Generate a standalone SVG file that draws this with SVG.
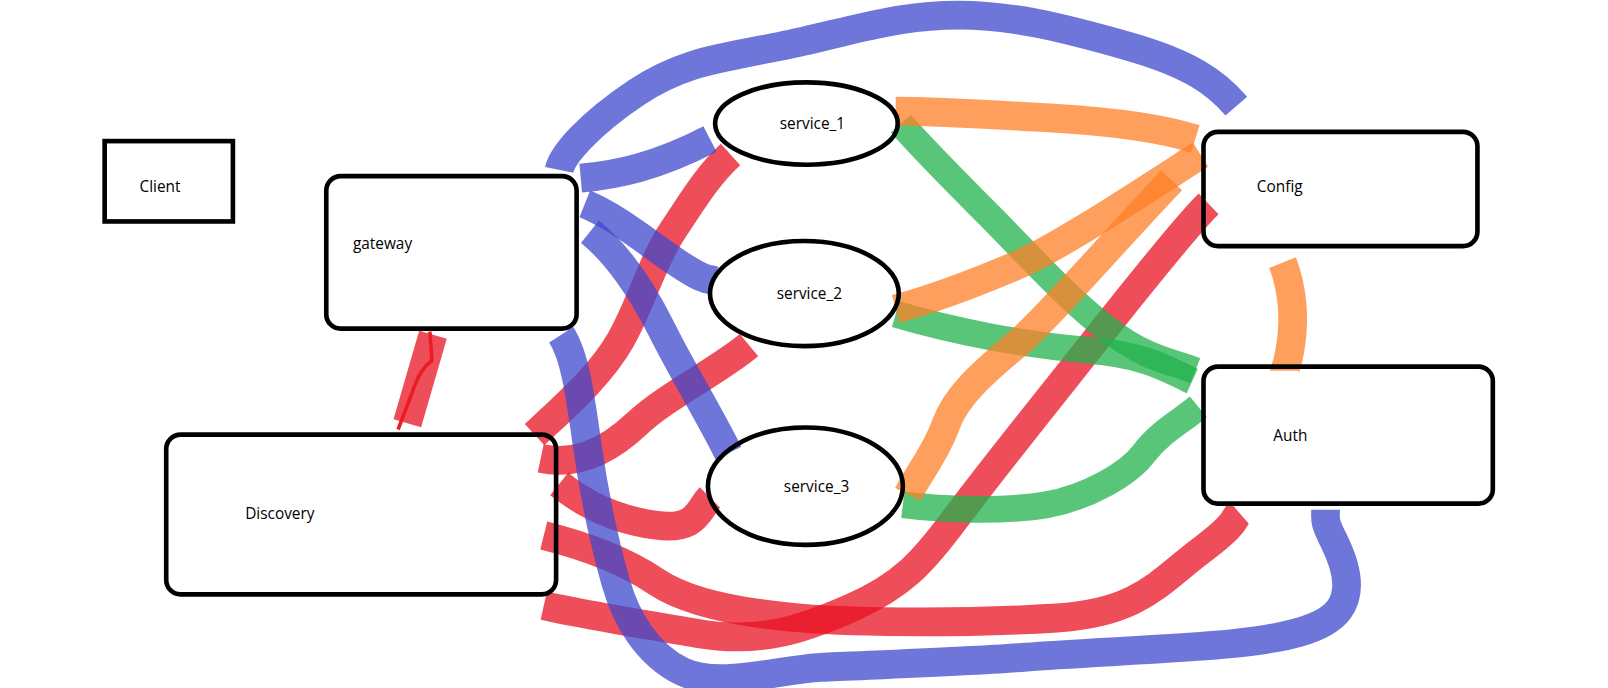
<svg xmlns="http://www.w3.org/2000/svg" width="1608" height="688" viewBox="0 0 1608 688">
<style>
.box{fill:none;stroke:#000;stroke-width:4.5}
.lbl{font-family:"Open Sans","Noto Sans",sans-serif;font-size:15px;fill:#000}
.c{fill:none;stroke-linecap:butt;stroke-linejoin:round;stroke-width:28;stroke-opacity:0.75}
.b{stroke:#3f48cc}
.r{stroke:#e81123}
.o{stroke:#ff7f27}
.g{stroke:#22b14c}
</style>
<rect width="1608" height="688" fill="#fff"/>
<g transform="scale(1.026,1.03)">
<g id="connectors">
<path class="c r" d="M521,422 C550,395 585,365 605,330 S635,255 655,225 S690,170 712,150"/>
<path class="c r" d="M527,445 C560,452 590,440 620,412 S700,360 730,335"/>
<path class="c r" d="M545,470 C570,490 600,505 640,510 S680,495 692,483"/>
<path class="c r" d="M530,520 C570,530 610,545 640,565 S720,595 780,600 S950,605 1030,600 S1130,565 1170,535 S1200,505 1208,498"/>
<path class="c r" d="M530,588 C570,597 620,605 680,615 S780,612 830,590 S900,545 930,505 S1000,415 1040,365 S1150,225 1178,198"/>
<path class="c r" d="M422,325 L397,411" style="stroke-width:28"/>
<path d="M419,322 L421,350 Q410,358 404,375 L388,417" fill="none" stroke="#ed1c24" stroke-width="3.5"/>
<path class="c g" d="M878,120 C900,145 930,175 965,210 S1040,290 1080,320 S1140,350 1165,360" style="stroke-width:26"/>
<path class="c g" d="M873,305 C930,322 1000,335 1060,340 S1140,360 1162,370" style="stroke-width:26"/>
<path class="c g" d="M880,490 C920,495 980,497 1020,490 S1100,460 1115,440 S1150,410 1168,395" style="stroke-width:26"/>
<path class="c o" d="M873,108 C920,108 980,112 1030,115 S1130,124 1165,135"/>
<path class="c o" d="M873,300 C910,290 950,275 990,258 S1100,195 1170,150"/>
<path class="c o" d="M885,480 C895,460 912,440 922,412 S960,360 990,335 S1080,240 1142,175"/>
<path class="c o" d="M1250,255 C1260,280 1262,310 1258,335 S1252,358 1252,360"/>
<path class="c b" d="M545,165 C548,150 575,120 620,90 S700,57 760,45 S860,18 920,15 S1040,28 1100,45 S1185,80 1205,103"/>
<path class="c b" d="M566,173 C600,170 640,162 692,135"/>
<path class="c b" d="M570,198 C600,210 630,235 660,255 S690,270 695,272"/>
<path class="c b" d="M575,225 C600,245 625,280 645,320 S690,400 710,440"/>
<path class="c b" d="M547,325 C560,345 565,380 572,430 S590,530 600,565 S630,635 665,652 S760,650 800,648 S950,642 1000,638 S1150,630 1200,625 S1290,612 1305,592 S1310,545 1300,525 S1292,505 1292,495"/>
</g>
<g id="client"><rect class="box" x="102" y="137" width="125" height="78"/><text class="lbl" x="136" y="186">Client</text></g>
<g id="gateway"><rect class="box" x="318" y="171" width="244" height="148" rx="14"/><text class="lbl" x="344" y="242">gateway</text></g>
<g id="discovery"><rect class="box" x="162" y="422" width="380" height="155" rx="14"/><text class="lbl" x="239" y="504">Discovery</text></g>
<g id="service_1"><ellipse class="box" cx="786" cy="120" rx="89" ry="40"/><text class="lbl" x="760" y="125">service_1</text></g>
<g id="service_2"><ellipse class="box" cx="784" cy="285" rx="92" ry="51"/><text class="lbl" x="757" y="290">service_2</text></g>
<g id="service_3"><ellipse class="box" cx="785" cy="472" rx="95" ry="57"/><text class="lbl" x="764" y="478">service_3</text></g>
<g id="config"><rect class="box" x="1173" y="128" width="267" height="111" rx="14"/><text class="lbl" x="1225" y="186">Config</text></g>
<g id="auth"><rect class="box" x="1173" y="356" width="282" height="133" rx="14"/><text class="lbl" x="1241" y="428">Auth</text></g>
</g>
</svg>
